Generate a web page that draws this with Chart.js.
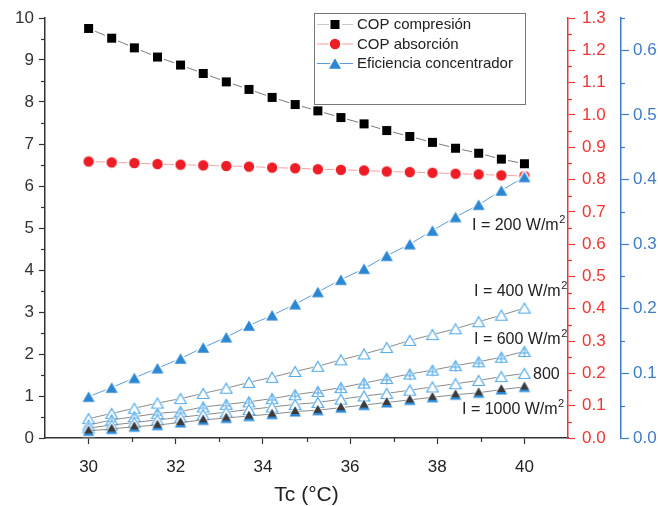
<!DOCTYPE html>
<html><head><meta charset="utf-8">
<script src="https://cdn.jsdelivr.net/npm/chart.js@4.4.1/dist/chart.umd.min.js"></script>
<style>html,body{margin:0;padding:0;background:#fff}#wrap{width:658px;height:506px;position:relative}</style>
</head><body><div id="wrap"><canvas id="c"></canvas></div>
<script>
// ---- data ----
const tcValues = [30, 30.53, 31.05, 31.58, 32.11, 32.63, 33.16, 33.68, 34.21, 34.74, 35.26, 35.79, 36.32, 36.84, 37.37, 37.89, 38.42, 38.95, 39.47, 40];
const copCompresion = [9.75, 9.52, 9.29, 9.07, 8.88, 8.68, 8.48, 8.30, 8.11, 7.94, 7.79, 7.63, 7.48, 7.32, 7.18, 7.04, 6.90, 6.78, 6.64, 6.53];
const copAbsorcion = [0.856, 0.853, 0.851, 0.848, 0.846, 0.844, 0.842, 0.840, 0.837, 0.835, 0.832, 0.830, 0.828, 0.825, 0.823, 0.821, 0.818, 0.816, 0.813, 0.811];
const efI200 = [0.064, 0.078, 0.093, 0.108, 0.123, 0.140, 0.156, 0.174, 0.190, 0.207, 0.226, 0.245, 0.262, 0.282, 0.300, 0.321, 0.342, 0.361, 0.383, 0.404];
const efI400 = [0.030, 0.038, 0.046, 0.054, 0.061, 0.069, 0.077, 0.086, 0.094, 0.103, 0.111, 0.121, 0.130, 0.140, 0.151, 0.160, 0.169, 0.180, 0.190, 0.201];
const efI600 = [0.020, 0.028, 0.033, 0.038, 0.041, 0.048, 0.052, 0.056, 0.061, 0.067, 0.072, 0.078, 0.085, 0.092, 0.099, 0.105, 0.112, 0.118, 0.125, 0.134];
const efI800 = [0.0155, 0.020, 0.024, 0.028, 0.032, 0.036, 0.040, 0.044, 0.048, 0.052, 0.055, 0.060, 0.065, 0.069, 0.074, 0.079, 0.084, 0.089, 0.095, 0.100];
const efI1000 = [0.011, 0.014, 0.0175, 0.020, 0.024, 0.028, 0.031, 0.034, 0.037, 0.041, 0.043, 0.047, 0.051, 0.055, 0.059, 0.063, 0.067, 0.070, 0.075, 0.079];

const seriesNames = ['COP compresión', 'COP absorción', 'Eficiencia concentrador'];
const curveLabels = [['I = 200 W/m', '2'], ['I = 400 W/m', '2'], ['I = 600 W/m', '2'], ['800', ''], ['I = 1000 W/m', '2']];
const xTitle = 'Tc (°C)';
const xTicks = [30, 32, 34, 36, 38, 40];
const leftTicks = [0, 1, 2, 3, 4, 5, 6, 7, 8, 9, 10];
const redTicks = [0, 0.1, 0.2, 0.3, 0.4, 0.5, 0.6, 0.7, 0.8, 0.9, 1.0, 1.1, 1.2, 1.3];
const blueTicks = [0, 0.1, 0.2, 0.3, 0.4, 0.5, 0.6];

// ---- styles ----
const FONT = '"Liberation Sans", Arial, sans-serif';
const RED = '#f03535';
const BLUE_AX = '#3f7bc9';
const TRI_BLUE = '#2c87d3';
const OPEN_BLUE = '#52aaea';

function mk(w, h, draw) { const c = document.createElement('canvas'); c.width = w; c.height = h; draw(c.getContext('2d'), w, h); return c; }
function triPath(g, cx, cy, w, h) { g.beginPath(); g.moveTo(cx, cy - h / 2); g.lineTo(cx + w / 2, cy + h / 2); g.lineTo(cx - w / 2, cy + h / 2); g.closePath(); }

const mSquare = mk(13, 13, g => { g.fillStyle = '#fff'; g.fillRect(0, 0, 13, 13); g.fillStyle = '#000'; g.fillRect(2, 2, 9, 9); });
const mCircle = mk(14, 14, g => { g.fillStyle = '#fff'; g.beginPath(); g.arc(7, 7, 6.8, 0, 7); g.fill(); g.fillStyle = '#ee1d25'; g.beginPath(); g.arc(7, 7, 5.2, 0, 7); g.fill(); });
const mTri = mk(16, 15, g => { g.lineJoin = 'round'; triPath(g, 8, 7.5, 12, 10.5); g.strokeStyle = '#fff'; g.lineWidth = 3; g.stroke(); g.fillStyle = TRI_BLUE; g.fill(); });
const mOpen = mk(16, 15, g => { g.lineJoin = 'round'; triPath(g, 8, 7.5, 11.5, 10); g.strokeStyle = '#fff'; g.lineWidth = 2.5; g.stroke(); g.fillStyle = '#fff'; g.fill(); g.strokeStyle = OPEN_BLUE; g.lineWidth = 1.2; g.lineJoin = 'miter'; g.stroke(); });
const mPlus = mk(16, 15, g => { g.lineJoin = 'round'; triPath(g, 8, 7.5, 11.5, 10); g.strokeStyle = '#fff'; g.lineWidth = 2.5; g.stroke(); g.fillStyle = '#fff'; g.fill(); g.strokeStyle = OPEN_BLUE; g.lineWidth = 1.2; g.lineJoin = 'miter'; g.stroke(); g.beginPath(); g.moveTo(8, 3.5); g.lineTo(8, 13.5); g.moveTo(3.5, 9); g.lineTo(12.5, 9); g.stroke(); });
const mDark = mk(16, 15, g => { g.lineJoin = 'round'; triPath(g, 8, 7.5, 11.5, 10); g.strokeStyle = '#fff'; g.lineWidth = 2; g.stroke(); g.fillStyle = TRI_BLUE; g.fill(); g.save(); g.beginPath(); g.rect(0, 0, 16, 10); g.clip(); triPath(g, 8, 6.8, 10.5, 9); g.fillStyle = '#3b3b3b'; g.fill(); g.restore(); });

function pts(ys) { return tcValues.map((x, i) => ({ x: x, y: ys[i] })); }
function ds(label, ys, axis, lineColor, marker, width) {
  return { label: label, data: pts(ys), yAxisID: axis, borderColor: lineColor, borderWidth: width || 1, pointStyle: marker, pointRadius: 5, pointHoverRadius: 5, fill: false, tension: 0 };
}

const datasets = [
  ds('I = 1000', efI1000, 'yB', '#8a8a8a', mDark),
  ds('I = 800', efI800, 'yB', '#8a8a8a', mOpen),
  ds('I = 600', efI600, 'yB', '#8a8a8a', mPlus),
  ds('I = 400', efI400, 'yB', '#8a8a8a', mOpen),
  ds(seriesNames[2], efI200, 'yB', '#5b9bdb', mTri),
  ds(seriesNames[1], copAbsorcion, 'yR', '#f5a0a0', mCircle),
  ds(seriesNames[0], copCompresion, 'yL', '#7a7a7a', mSquare)
];

const legendItems = [
  { name: seriesNames[0], line: '#c8c8c8', marker: mSquare },
  { name: seriesNames[1], line: '#f59a9a', marker: mCircle },
  { name: seriesNames[2], line: '#5b9bdb', marker: mTri }
];

function midpoints(arr) { const r = []; for (let i = 0; i < arr.length - 1; i++) r.push((arr[i] + arr[i + 1]) / 2); return r; }

const minorPlugin = {
  id: 'minor',
  afterDraw(chart) {
    const ctx = chart.ctx;
    const defs = [
      { s: chart.scales.x, vals: [31, 33, 35, 37, 39], color: '#333', len: 4 },
      { s: chart.scales.yL, vals: midpoints(leftTicks), color: '#333', len: 4 },
      { s: chart.scales.yR, vals: midpoints(redTicks), color: RED, len: 4 },
      { s: chart.scales.yB, vals: midpoints(blueTicks).concat([0.65]), color: BLUE_AX, len: 4 }
    ];
    ctx.save();
    ctx.lineWidth = 1.2;
    defs.forEach(d => {
      ctx.strokeStyle = d.color;
      d.vals.forEach(v => {
        const p = Math.round(d.s.getPixelForValue(v)) + 0.5;
        ctx.beginPath();
        if (d.s.isHorizontal()) { ctx.moveTo(p, d.s.top); ctx.lineTo(p, d.s.top + d.len); }
        else if (d.s.position === 'left') { ctx.moveTo(d.s.right, p); ctx.lineTo(d.s.right - d.len, p); }
        else { ctx.moveTo(d.s.left, p); ctx.lineTo(d.s.left + d.len, p); }
        ctx.stroke();
      });
    });
    ctx.restore();
  }
};

const legendPlugin = {
  id: 'boxLegend',
  afterDraw(chart) {
    const ctx = chart.ctx;
    ctx.save();
    ctx.strokeStyle = '#777'; ctx.lineWidth = 1;
    ctx.strokeRect(314.5, 13.5, 211, 91);
    ctx.font = '15px ' + FONT; ctx.fillStyle = '#222'; ctx.textBaseline = 'middle'; ctx.textAlign = 'left';
    const ys = [24, 43.5, 63];
    legendItems.forEach((it, i) => {
      const y = ys[i];
      ctx.strokeStyle = it.line; ctx.lineWidth = 1;
      ctx.beginPath(); ctx.moveTo(317, y + 0.5); ctx.lineTo(353, y + 0.5); ctx.stroke();
      ctx.drawImage(it.marker, 335 - it.marker.width / 2, y - it.marker.height / 2 + 0.5);
      ctx.fillText(it.name, 357, y + 1);
    });
    ctx.restore();
  }
};

const labelPlugin = {
  id: 'curveLabels',
  afterDraw(chart) {
    const ctx = chart.ctx;
    const pos = [[472, 226], [474, 292], [474, 339.5], [533, 375], [462, 410]];
    ctx.save();
    ctx.fillStyle = '#222'; ctx.textBaseline = 'middle'; ctx.textAlign = 'left';
    curveLabels.forEach((lab, i) => {
      const [x, y] = pos[i];
      ctx.font = '16px ' + FONT;
      ctx.fillText(lab[0], x, y);
      if (lab[1]) {
        const w = ctx.measureText(lab[0]).width;
        ctx.font = '11px ' + FONT;
        ctx.fillText(lab[1], x + w + 0.5, y - 6);
      }
    });
    ctx.restore();
  }
};

function fixW(w) { return s => { s.width = w; }; }

new Chart(document.getElementById('c'), {
  type: 'line',
  data: { datasets: datasets },
  plugins: [minorPlugin, legendPlugin, labelPlugin],
  options: {
    responsive: true, maintainAspectRatio: false, animation: false,
    layout: { padding: { top: 18, right: 0, bottom: 0, left: 0 } },
    plugins: { legend: { display: false }, tooltip: { enabled: false } },
    scales: {
      x: {
        type: 'linear', position: 'bottom', min: 29, max: 41,
        afterBuildTicks: s => { s.ticks = xTicks.map(v => ({ value: v })); },
        afterFit: s => { s.height = 68; },
        ticks: { font: { family: FONT, size: 17 }, color: '#222', padding: 13, maxRotation: 0, callback: v => String(v) },
        grid: { drawOnChartArea: false, tickLength: 6, color: '#333', tickWidth: 1.2 },
        border: { color: '#333', width: 1.5 },
        title: { display: true, text: xTitle, font: { family: FONT, size: 21, lineHeight: 1 }, color: '#222', padding: 0 }
      },
      yL: {
        type: 'linear', position: 'left', min: 0, max: 10,
        afterBuildTicks: s => { s.ticks = leftTicks.map(v => ({ value: v })); },
        afterFit: fixW(45),
        ticks: { font: { family: FONT, size: 17 }, color: '#333', padding: 5, callback: v => String(v) },
        grid: { drawOnChartArea: false, tickLength: 6, color: '#333', tickWidth: 1.2 },
        border: { color: '#333', width: 1.5 }
      },
      yR: {
        type: 'linear', position: 'right', weight: 1, min: 0, max: 1.3,
        afterBuildTicks: s => { s.ticks = redTicks.map(v => ({ value: v })); },
        afterFit: fixW(53),
        ticks: { font: { family: FONT, size: 17 }, color: RED, padding: 7, callback: v => v.toFixed(1) },
        grid: { drawOnChartArea: false, tickLength: 7, color: RED, tickWidth: 1.2 },
        border: { color: RED, width: 1.5 }
      },
      yB: {
        type: 'linear', position: 'right', weight: 2, min: 0, max: 0.65,
        afterBuildTicks: s => { s.ticks = blueTicks.map(v => ({ value: v })); },
        afterFit: fixW(37),
        ticks: { font: { family: FONT, size: 17 }, color: BLUE_AX, padding: 4, callback: v => v.toFixed(1) },
        grid: { drawOnChartArea: false, tickLength: 8, color: BLUE_AX, tickWidth: 1.2 },
        border: { color: BLUE_AX, width: 1.5 }
      }
    }
  }
});
</script>
</body></html>
